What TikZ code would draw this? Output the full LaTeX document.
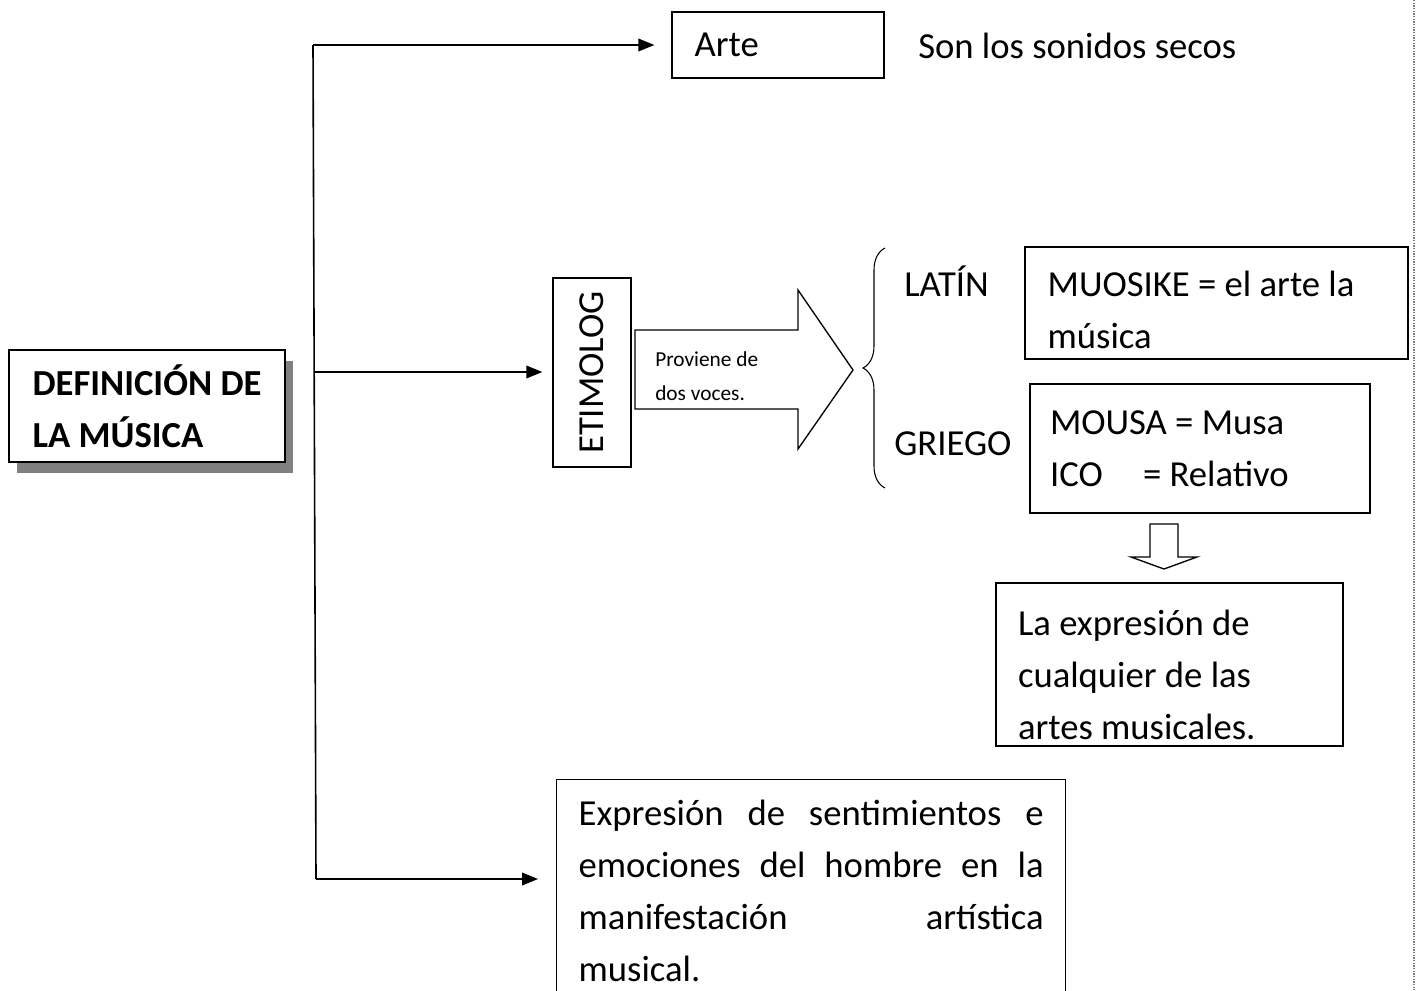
\documentclass[tikz,border=0pt]{standalone}
\usepackage{fontspec}
\setmainfont{Carlito}
\usetikzlibrary{arrows.meta}
\usetikzlibrary{shadows}
\usetikzlibrary{decorations.pathreplacing}
\newcommand{\bigfont}{\fontsize{27.5}{39}\selectfont}

\begin{document}
\begin{tikzpicture} [x=.75pt, y=-.75pt,
  caja/.style={draw, line width=1pt, align=flush left, inner xsep=17pt, font=\bigfont},
  rama/.style={line width=1.2pt, ->, >={Triangle[length=12pt, width=9.5pt]}},
  flecha/.style={draw, line width=1pt, line join=miter, fill=white}]
\useasboundingbox (0,0) rectangle (1417,990);
\clip (0,0) rectangle (1417,990);
% page edge
\draw[gray, densely dotted, line width=1pt] (1414,0) --++(0,990);

\node[caja, font=\bigfont\bfseries, minimum width=207pt, minimum height=84pt, fill=white,
  drop shadow={shadow xshift=6pt, shadow yshift=-8pt, fill=black!50, opacity=1}] (def) at (147,406) {DEFINICIÓN DE\\LA MÚSICA};

\coordinate (trtop) at (313,45);
\coordinate (trmid) at (314.7,372);
\coordinate (trbot) at (316,879);

\node[caja, text width=125pt, minimum height=49.5pt] (arte) at (778,45) {Arte};
\node[anchor=west, inner sep=0, font=\bigfont] (son) at (918,46) {Son los sonidos secos};

\node[caja, rotate=90, align=center, inner xsep=2pt, minimum width=141.75pt, minimum height=58.5pt] (etim) at (592,372.5) {ETIMOLOG};
\draw[flecha] (635,330) -- (798,330) -- (798,290) -- (853,370) -- (798,449) -- (798,409) -- (635,409) -- cycle;
\node[anchor=west, align=left, inner sep=0, font=\fontsize{16}{25.5}\selectfont] (voces) at (655,376) {Proviene de\\dos voces.};

\draw[decorate, decoration={brace, amplitude=16.5pt}, line width=.8pt] (885,488) -- (885,248);
\node[anchor=west, inner sep=0, font=\bigfont] (latin) at (904,281) {LATÍN};
\node[anchor=west, inner sep=0, font=\bigfont] (griego) at (894,444) {GRIEGO};

\node[caja, text width=253.25pt, minimum height=84pt] (muosike) at (1216.5,303) {\rule{0pt}{29pt}MUOSIKE = el arte la\\música};
\node[caja, inner xsep=15pt, text width=225pt, minimum height=96.75pt] (mousa) at (1200,448.5) {MOUSA = Musa\\ICO\hspace*{24pt} = Relativo};

\draw[flecha] (1150,524) -- (1178,524) -- (1178,557) -- (1197,557) -- (1164,569) -- (1131,557) -- (1150,557) -- cycle;
\node[caja, inner xsep=16.5pt, text width=227.25pt, minimum height=122.25pt] (expr) at (1169.5,664.5) {\rule{0pt}{35pt}La expresión de\\cualquier de las\\artes musicales.};

\node[caja, anchor=north west, align=justify, inner xsep=16.5pt, inner ysep=15pt, text width=348.75pt] (sent) at (556,779)
 {Expresión de sentimientos e\linebreak emociones del hombre en la\linebreak manifestación artística\linebreak musical.};

\draw[line width=1.2pt] (trbot) -- (trtop);
\draw[rama, shorten >=12.75pt] (trtop) -- (arte.west);
\draw[rama, shorten >=7.5pt] (trmid) -- (trmid -| etim.north);
\draw[rama, shorten >=13.5pt] (trbot) -- (trbot -| sent.west);
\end{tikzpicture}
\end{document}
